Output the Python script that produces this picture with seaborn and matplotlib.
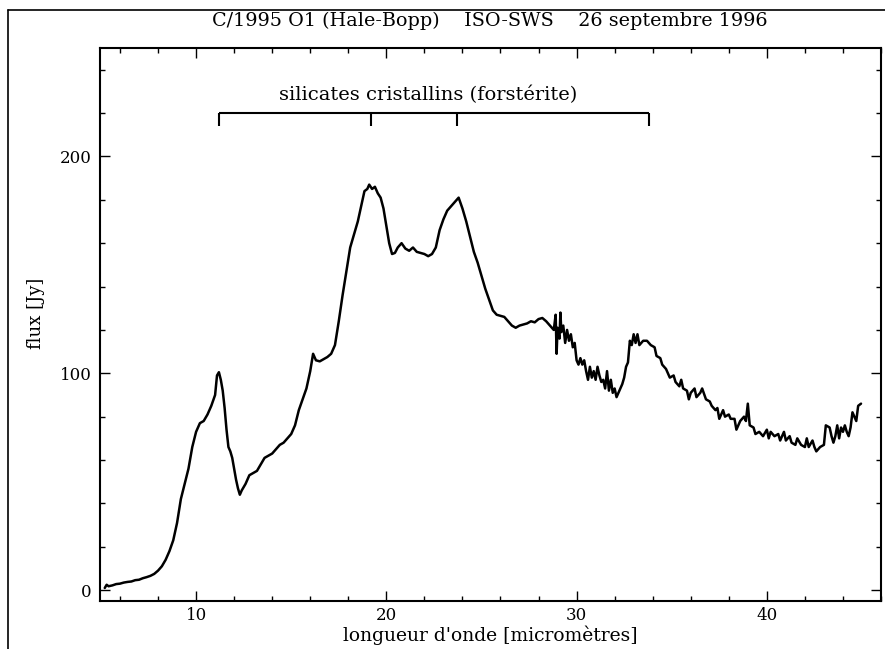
import numpy as np
import pandas as pd
import matplotlib
matplotlib.use("Agg")
import matplotlib.pyplot as plt
from matplotlib.ticker import MultipleLocator, FixedLocator
from matplotlib.lines import Line2D
import seaborn as sns

# ---------------- data ----------------
wavelength = [
    5.2, 5.3, 5.4, 5.6, 5.8, 6.0, 6.2, 6.4, 6.6, 6.8, 7.0, 7.2, 7.4, 7.6, 7.8,
    8.0, 8.2, 8.4, 8.6, 8.8, 9.0, 9.2, 9.4, 9.6, 9.8, 10.0, 10.2, 10.4, 10.6, 10.8,
    11.0, 11.1, 11.2, 11.3, 11.4, 11.5, 11.6, 11.7, 11.8, 11.9, 12.0, 12.1, 12.2, 12.3,
    12.4, 12.6, 12.8, 13.0, 13.2, 13.4, 13.6, 13.8, 14.0, 14.2, 14.4, 14.6, 14.8, 15.0,
    15.2, 15.4, 15.6, 15.8, 16.0, 16.15, 16.3, 16.5, 16.7, 16.9, 17.1, 17.3, 17.5, 17.7,
    17.9, 18.1, 18.3, 18.5, 18.7, 18.85, 19.0, 19.1, 19.25, 19.4, 19.55, 19.7, 19.85,
    20.0, 20.15, 20.3, 20.45, 20.6, 20.8, 21.0, 21.2, 21.4, 21.6, 21.8, 22.0, 22.2,
    22.4, 22.6, 22.8, 23.0, 23.2, 23.4, 23.6, 23.8, 24.0, 24.2, 24.4, 24.6, 24.8, 25.0,
    25.2, 25.4, 25.6, 25.8, 26.0, 26.2, 26.4, 26.6, 26.8, 27.0, 27.2, 27.4, 27.6, 27.8,
    28.0, 28.2, 28.4, 28.6, 28.8, 28.9, 28.95, 29.0, 29.1, 29.15, 29.2, 29.3, 29.4,
    29.5, 29.6, 29.7, 29.8, 29.9, 30.0, 30.1, 30.2, 30.3, 30.4, 30.5, 30.6, 30.7, 30.8,
    30.9, 31.0, 31.1, 31.2, 31.3, 31.4, 31.5, 31.6, 31.7, 31.8, 31.9, 32.0, 32.1, 32.2,
    32.3, 32.4, 32.5, 32.6, 32.7, 32.8, 32.9, 33.0, 33.1, 33.2, 33.3, 33.5, 33.7, 33.9,
    34.1, 34.2, 34.4, 34.5, 34.7, 34.9, 35.1, 35.2, 35.4, 35.5, 35.6, 35.8, 35.9, 36.0,
    36.2, 36.3, 36.5, 36.6, 36.8, 37.0, 37.1, 37.3, 37.4, 37.5, 37.7, 37.8, 38.0, 38.1,
    38.3, 38.4, 38.6, 38.8, 38.9, 39.0, 39.1, 39.3, 39.4, 39.6, 39.8, 40.0, 40.1, 40.2,
    40.4, 40.6, 40.7, 40.9, 41.0, 41.2, 41.3, 41.5, 41.6, 41.8, 42.0, 42.1, 42.2, 42.4,
    42.5, 42.6, 42.8, 43.0, 43.1, 43.3, 43.4, 43.5, 43.6, 43.7, 43.8, 43.9, 44.0, 44.1,
    44.2, 44.3, 44.4, 44.5, 44.6, 44.7, 44.8, 44.95,
]
flux = [
    1.0, 2.5, 1.8, 2.2, 2.8, 3.0, 3.5, 3.8, 4.0, 4.6, 4.8, 5.5, 6.0, 6.6, 7.5,
    9.0, 11, 14, 18, 23, 31, 42, 49, 56, 66, 73, 77, 78, 81, 85,
    90, 99, 100.5, 97, 92, 84, 74, 66, 64, 61, 56, 51, 47, 44,
    46, 49, 53, 54, 55, 58, 61, 62, 63, 65, 67, 68, 70, 72,
    76, 83, 88, 93, 101, 109, 106, 105.5, 106.5, 107.5, 109, 113, 124, 136,
    147, 158, 164, 170, 178, 184, 185, 187, 185, 186, 183, 181, 176,
    168, 160, 155, 155.5, 158, 160, 157.5, 156.5, 158, 156, 155.5, 155, 154,
    155, 158, 166, 171, 175, 177, 179, 181, 176, 170, 163, 156, 151, 145,
    139, 134, 129, 127, 126.5, 126, 124, 122, 121, 122, 122.5, 123, 124, 123.5,
    125, 125.5, 124, 122, 120, 127, 109, 121, 116, 128, 119, 122, 114,
    120, 115, 118, 112, 114, 106, 104, 107, 104, 106, 101, 97, 103, 98,
    101, 97, 103, 99, 96, 97, 93, 101, 92, 97, 91, 93, 89, 91,
    93, 95, 98, 103, 105, 115, 113, 118, 114, 118, 113, 115, 115, 113,
    112, 108, 107, 104, 102, 98, 99, 96, 94, 97, 93, 92, 88, 91,
    93, 89, 91, 93, 88, 87, 85, 83, 84, 79, 83, 80, 81, 79,
    79, 74, 78, 80, 78, 86, 76, 75, 72, 73, 71, 74, 70, 73,
    71, 72, 69, 73, 69, 71, 68, 67, 70, 67, 66, 70, 66, 69,
    66, 64, 66, 67, 76, 75, 71, 68, 71, 76, 70, 75, 73, 76,
    73, 71, 75, 82, 80, 78, 85, 86,
]
band_positions = [11.2, 19.2, 23.7, 33.8]
band_label = "silicates cristallins (forstérite)"
x_major = [10, 20, 30, 40]
y_major = [0, 100, 200]
title_text = "C/1995 O1 (Hale-Bopp)    ISO-SWS    26 septembre 1996"
x_label = "longueur d'onde [micromètres]"
y_label = "flux [Jy]"

df = pd.DataFrame({"wavelength": wavelength, "flux": flux})

# ---------------- figure ----------------
sns.set_theme(style="ticks")
plt.rcParams["font.family"] = ["DejaVu Serif"]

W, H = 885, 649
fig = plt.figure(figsize=(W / 100, H / 100), dpi=100)
ax = fig.add_axes([100 / W, 1 - 601 / H, 781 / W, (601 - 48) / H])

sns.lineplot(data=df, x="wavelength", y="flux", ax=ax, color="black",
             linewidth=1.8, sort=False)

ax.set_xlim(4.95, 46.0)
ax.set_ylim(-5, 250)

ax.xaxis.set_major_locator(FixedLocator(x_major))
ax.xaxis.set_minor_locator(MultipleLocator(2))
ax.yaxis.set_major_locator(FixedLocator(y_major))
ax.yaxis.set_minor_locator(MultipleLocator(20))

ax.tick_params(which="both", direction="in", top=True, right=True,
               color="black", width=1.0)
ax.tick_params(which="major", length=7)
ax.tick_params(which="minor", length=3.5)
ax.tick_params(axis="x", which="major", labelsize=12, pad=4, labelcolor="black")
ax.tick_params(axis="y", which="major", labelsize=12, pad=6, labelcolor="black")
for s in ax.spines.values():
    s.set_visible(True)
    s.set_linewidth(1.5)
    s.set_color("black")

ax.set_xlabel(x_label, fontsize=13.5, labelpad=1.5, color="black")
ax.set_ylabel(y_label, fontsize=13, color="black")
ax.yaxis.set_label_coords(-0.07, 0.52)

# title
fig.text(490 / W, 1 - 21 / H, title_text, ha="center", va="center",
         fontsize=13.8, color="black")

# forsterite bracket
yb, yt = 220, 214
ax.plot([band_positions[0], band_positions[-1]], [yb, yb], color="black", lw=1.5,
        solid_capstyle="butt")
for bp in band_positions:
    ax.plot([bp, bp], [yb, yt], color="black", lw=1.5, solid_capstyle="butt")
ax.text((band_positions[0] + band_positions[-1]) / 2 - 0.3, 228.5, band_label,
        ha="center", va="center", fontsize=14, color="black")

# outer page frame (left and top)
fig.add_artist(Line2D([8 / W, 8 / W], [0, 1 - 10 / H], transform=fig.transFigure,
                      color="black", lw=1.2))
fig.add_artist(Line2D([8 / W, 1], [1 - 10 / H, 1 - 10 / H], transform=fig.transFigure,
                      color="black", lw=1.2))

fig.savefig("out.png", dpi=100, facecolor="white")
